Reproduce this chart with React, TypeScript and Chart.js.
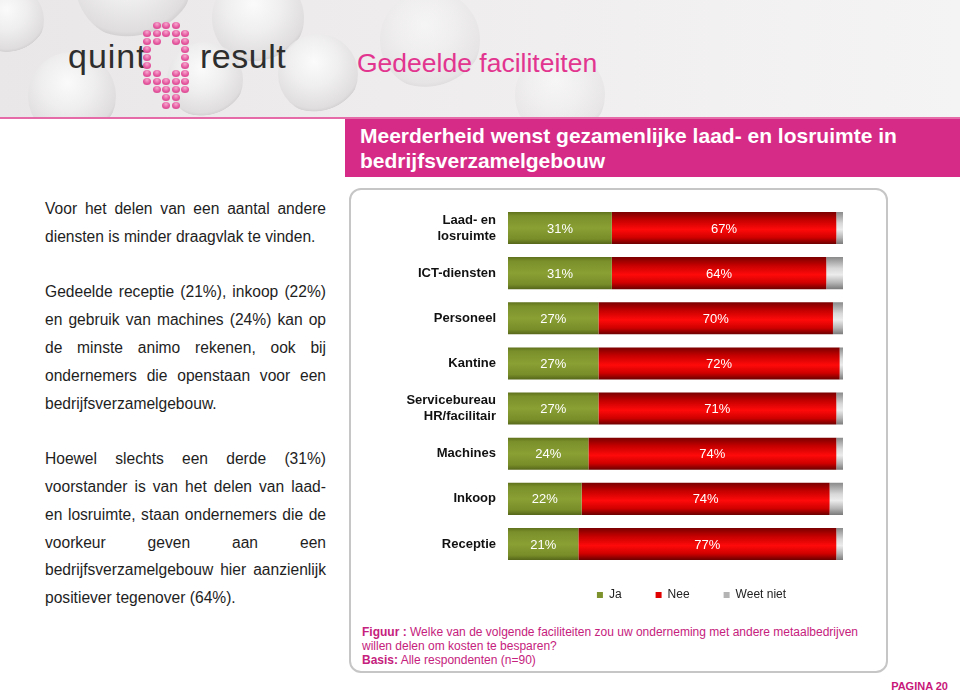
import React, { useEffect, useRef } from "react";
import { Chart, registerables } from "chart.js";

Chart.register(...registerables);

const FONT = '"Liberation Sans", Arial, Helvetica, sans-serif';

// ---- data ----
const categories: (string | string[])[] = [
  ["Laad- en", "losruimte"],
  "ICT-diensten",
  "Personeel",
  "Kantine",
  ["Servicebureau", "HR/facilitair"],
  "Machines",
  "Inkoop",
  "Receptie",
];
const seriesNames = ["Ja", "Nee", "Weet niet"];
const ja = [31, 31, 27, 27, 27, 24, 22, 21];
const nee = [67, 64, 70, 72, 71, 74, 74, 77];
const weetNiet = [2, 5, 3, 1, 2, 2, 4, 2];
const labelledSeries = [0, 1];
const legendColors = ["#7d922c", "#e00000", "#b4b4b4"];

const BAR_PCT = 0.71;

function gradientFill(stops: [number, string][], solid: string) {
  return (c: any) => {
    if (c.type !== "data") return solid;
    const chart = c.chart;
    const ys = chart.scales && chart.scales.y;
    const area = chart.chartArea;
    if (!ys || !area) return solid;
    const center = ys.getPixelForValue(c.dataIndex);
    const band = (area.bottom - area.top) / categories.length;
    const half = (band * BAR_PCT) / 2;
    const g = chart.ctx.createLinearGradient(0, center - half, 0, center + half);
    stops.forEach(([o, col]) => g.addColorStop(o, col));
    return g;
  };
}

const greenFill = gradientFill(
  [
    [0, "#5f711c"],
    [0.12, "#7a8f2a"],
    [0.5, "#8aa034"],
    [0.85, "#788c28"],
    [1, "#56661a"],
  ],
  legendColors[0]
);
const redFill = gradientFill(
  [
    [0, "#7a0000"],
    [0.25, "#c40000"],
    [0.55, "#ff0a0a"],
    [0.8, "#d00000"],
    [1, "#6a0000"],
  ],
  legendColors[1]
);
const grayFill = gradientFill(
  [
    [0, "#8a8a8a"],
    [0.35, "#d8d8d8"],
    [0.55, "#ececec"],
    [0.8, "#b5b5b5"],
    [1, "#7a7a7a"],
  ],
  legendColors[2]
);

const valueLabels = {
  id: "valueLabels",
  afterDatasetsDraw(chart: any) {
    const ctx = chart.ctx;
    ctx.save();
    ctx.font = `13px ${FONT}`;
    ctx.fillStyle = "#ffffff";
    ctx.textAlign = "center";
    ctx.textBaseline = "middle";
    labelledSeries.forEach((di) => {
      const meta = chart.getDatasetMeta(di);
      meta.data.forEach((el: any, i: number) => {
        const { x, base, y } = el.getProps(["x", "base", "y"], true);
        const v = chart.data.datasets[di].data[i];
        ctx.fillText(`${v}%`, (x + base) / 2, y + 1);
      });
    });
    ctx.restore();
  },
};

const legendPlace = {
  id: "legendPlace",
  afterLayout(chart: any) {
    const lg = chart.legend;
    if (!lg) return;
    lg.left += 16;
    lg.right += 16;
    lg.top -= 11.6;
    lg.bottom -= 11.6;
  },
};

function BarChart() {
  const ref = useRef<HTMLCanvasElement | null>(null);
  useEffect(() => {
    if (!ref.current) return;
    const chart = new Chart(ref.current, {
      type: "bar",
      data: {
        labels: categories,
        datasets: [
          { label: seriesNames[0], data: ja, backgroundColor: greenFill as any },
          { label: seriesNames[1], data: nee, backgroundColor: redFill as any },
          { label: seriesNames[2], data: weetNiet, backgroundColor: grayFill as any },
        ],
      },
      options: {
        indexAxis: "y",
        responsive: false,
        animation: false,
        devicePixelRatio: 1,
        layout: { padding: { top: 5.4, right: 35, bottom: 0.4, left: 0 } },
        datasets: {
          bar: {
            barPercentage: BAR_PCT,
            categoryPercentage: 1,
            borderWidth: 0,
          },
        },
        scales: {
          x: { stacked: true, min: 0, max: 100, display: false },
          y: {
            stacked: true,
            grid: { display: false, drawTicks: false },
            border: { display: false },
            afterFit: (s: any) => {
              s.width = 120;
              s.paddingTop = 0;
              s.paddingBottom = 0;
            },
            ticks: {
              color: "#111111",
              padding: 12,
              font: { family: FONT, size: 13, weight: "bold", lineHeight: 1.23 },
            },
          },
        },
        plugins: {
          tooltip: { enabled: false },
          legend: {
            position: "bottom",
            fullSize: false,
            labels: {
              boxWidth: 6,
              boxHeight: 6,
              padding: 34,
              color: "#222222",
              font: { family: FONT, size: 12 },
              generateLabels: (chart: any) =>
                Chart.defaults.plugins.legend.labels.generateLabels(chart).map((it: any, i: number) => ({
                  ...it,
                  fillStyle: legendColors[i],
                  strokeStyle: legendColors[i],
                  lineWidth: 0,
                })),
            },
          },
        },
      },
      plugins: [valueLabels, legendPlace],
    } as any);
    return () => chart.destroy();
  }, []);
  return <canvas ref={ref} width={490} height={423} style={{ display: "block" }} />;
}

const Q_DOTS = [
  ".XXX.",
  "XXXXX",
  "XX.XX",
  "X...X",
  "X...X",
  "X...X",
  "XX.XX",
  "XXXXX",
  ".XXXX",
  "..XX.",
  "..XX.",
];

const bubbles: [number, number, number][] = [
  [133, -18, 58],
  [72, 96, 44],
  [258, 18, 46],
  [205, 80, 38],
  [318, 74, 40],
  [10, 20, 34],
  [430, 40, 50],
  [560, 95, 45],
];

const textLines: { t: string; last?: boolean }[][] = [
  [
    { t: "Voor het delen van een aantal andere" },
    { t: "diensten is minder draagvlak te vinden.", last: true },
  ],
  [
    { t: "Gedeelde receptie (21%), inkoop (22%)" },
    { t: "en gebruik van machines (24%) kan op" },
    { t: "de minste animo rekenen, ook bij" },
    { t: "ondernemers die openstaan voor een" },
    { t: "bedrijfsverzamelgebouw.", last: true },
  ],
  [
    { t: "Hoewel slechts een derde (31%)" },
    { t: "voorstander is van het delen van laad-" },
    { t: "en losruimte, staan ondernemers die de" },
    { t: "voorkeur geven aan een" },
    { t: "bedrijfsverzamelgebouw hier aanzienlijk" },
    { t: "positiever tegenover (64%).", last: true },
  ],
];

export default function App() {
  const LH = 27.8;
  const PINK = "#d62b86";
  const FOOT = "#c5217d";
  return (
    <div
      style={{
        position: "absolute",
        left: 0,
        top: 0,
        width: 960,
        height: 691,
        overflow: "hidden",
        background: "#ffffff",
        fontFamily: FONT,
      }}
    >
      {/* header background */}
      <div
        style={{
          position: "absolute",
          left: 0,
          top: 0,
          width: 960,
          height: 118,
          background: "linear-gradient(90deg, #e9e7e8 0%, #eeeced 40%, #f5f4f4 100%)",
          overflow: "hidden",
        }}
      >
        {bubbles.map(([cx, cy, r], i) => (
          <div
            key={i}
            style={{
              position: "absolute",
              left: cx - r,
              top: cy - r,
              width: 2 * r,
              height: 2 * r,
              borderRadius: "50%",
              background:
                "radial-gradient(circle at 45% 35%, #ffffff 0%, #f1f0f0 35%, #dcdadb 68%, #cfcdce 72%, rgba(230,228,229,0) 73%)",
              opacity: cx > 340 ? 0.45 : 0.8,
            }}
          />
        ))}
      </div>
      <div style={{ position: "absolute", left: 0, top: 117, width: 960, height: 2, background: "#e56aa8" }} />

      {/* logo */}
      <div
        style={{
          position: "absolute",
          left: 68,
          top: 39,
          fontFamily: '"Liberation Sans Narrow", "Liberation Sans", Arial, sans-serif',
          fontSize: 34,
          lineHeight: "34px",
          letterSpacing: 1,
          color: "#2e2e2e",
        }}
      >
        quint
      </div>
      <div
        style={{
          position: "absolute",
          left: 200,
          top: 39,
          fontFamily: '"Liberation Sans Narrow", "Liberation Sans", Arial, sans-serif',
          fontSize: 34,
          lineHeight: "34px",
          letterSpacing: 0.5,
          color: "#2e2e2e",
        }}
      >
        result
      </div>
      {Q_DOTS.map((row, r) =>
        row.split("").map((ch, c) =>
          ch === "X" ? (
            <div
              key={`${r}-${c}`}
              style={{
                position: "absolute",
                left: 143 + c * 9.6,
                top: 22 + r * 8,
                width: 8,
                height: 7,
                borderRadius: "50%",
                background: "radial-gradient(circle at 50% 30%, #f7a9cf 0%, #e5589f 55%, #cf3c86 100%)",
              }}
            />
          ) : null
        )
      )}

      {/* page title */}
      <div
        style={{
          position: "absolute",
          left: 357,
          top: 50,
          fontSize: 26.5,
          lineHeight: "26.5px",
          color: "#e2358f",
          whiteSpace: "nowrap",
        }}
      >
        Gedeelde faciliteiten
      </div>

      {/* pink band */}
      <div style={{ position: "absolute", left: 345, top: 119, width: 615, height: 58, background: PINK }} />
      <div
        style={{
          position: "absolute",
          left: 360,
          top: 123,
          fontSize: 21,
          lineHeight: "25px",
          fontWeight: "bold",
          color: "#ffffff",
          whiteSpace: "nowrap",
        }}
      >
        Meerderheid wenst gezamenlijke laad- en losruimte in
        <br />
        bedrijfsverzamelgebouw
      </div>

      {/* left text */}
      <div
        style={{
          position: "absolute",
          left: 45,
          top: 195,
          width: 281,
          fontSize: 15.6,
          color: "#1e1e1e",
        }}
      >
        {textLines.map((para, pi) => (
          <div key={pi} style={{ marginBottom: pi < textLines.length - 1 ? LH : 0 }}>
            {para.map((ln, li) => (
              <div
                key={li}
                style={{
                  height: LH,
                  lineHeight: `${LH}px`,
                  whiteSpace: "nowrap",
                  textAlign: ln.last ? "left" : "justify",
                  textAlignLast: ln.last ? "left" : "justify",
                  overflow: "visible",
                }}
              >
                {ln.t}
              </div>
            ))}
          </div>
        ))}
      </div>

      {/* rounded chart box */}
      <div
        style={{
          position: "absolute",
          left: 349,
          top: 188,
          width: 539,
          height: 485,
          border: "2px solid #c6c6c6",
          borderRadius: 12,
          boxSizing: "border-box",
        }}
      />

      {/* chart */}
      <div style={{ position: "absolute", left: 388, top: 200, width: 490, height: 423 }}>
        <BarChart />
      </div>

      {/* footnote */}
      <div
        style={{
          position: "absolute",
          left: 362,
          top: 625,
          fontSize: 12,
          lineHeight: "14px",
          color: FOOT,
          whiteSpace: "nowrap",
        }}
      >
        <b>Figuur :</b> Welke van de volgende faciliteiten zou uw onderneming met andere metaalbedrijven
        <br />
        willen delen om kosten te besparen?
        <br />
        <b>Basis:</b> Alle respondenten (n=90)
      </div>

      <div
        style={{
          position: "absolute",
          right: 12,
          top: 680,
          fontSize: 11,
          lineHeight: "12px",
          fontWeight: "bold",
          color: "#c8177a",
        }}
      >
        PAGINA 20
      </div>
    </div>
  );
}
